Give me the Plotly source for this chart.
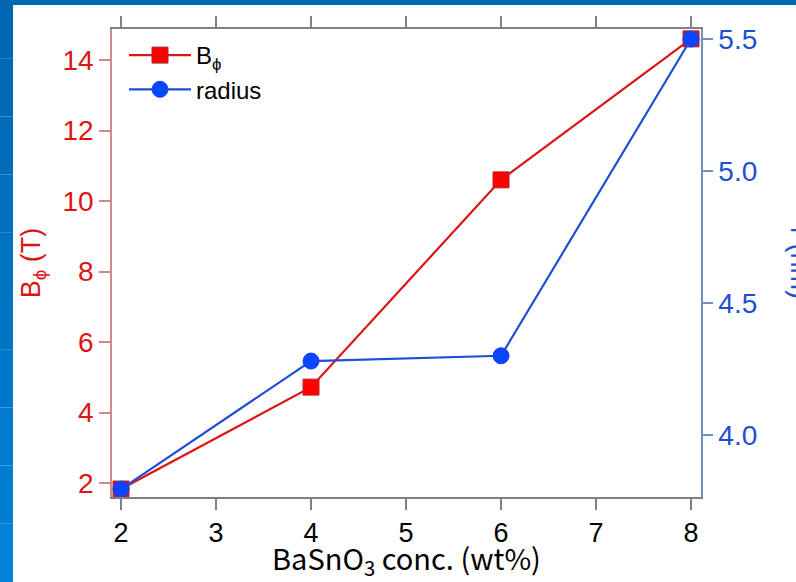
import plotly.graph_objects as go

conc = [2, 4, 6, 8]
b_phi = [1.83, 4.72, 10.6, 14.6]
radius = [3.795, 4.28, 4.30, 5.5]

x_ticks = [2, 3, 4, 5, 6, 7, 8]
b_ticks = [2, 4, 6, 8, 10, 12, 14]
r_ticks = [4.0, 4.5, 5.0, 5.5]

RED_LINE = "#dc1414"
RED_FILL = "#ff0000"
BLUE_LINE = "#1c4fd2"
BLUE_FILL = "#0a46ff"

fig = go.Figure()
fig.add_trace(go.Scatter(
    x=conc, y=b_phi, name="B<sub>ϕ</sub>", mode="lines+markers",
    line=dict(color=RED_LINE, width=2.2),
    marker=dict(symbol="square", size=16, color=RED_FILL,
                line=dict(color="#b02828", width=1)),
    yaxis="y"))
fig.add_trace(go.Scatter(
    x=conc, y=radius, name="radius", mode="lines+markers",
    line=dict(color=BLUE_LINE, width=2.2),
    marker=dict(symbol="circle", size=16, color=BLUE_FILL,
                line=dict(color=BLUE_FILL, width=1)),
    yaxis="y2"))

L, R, T, B = 112, 95, 29, 85
W, H = 796, 582
pw, ph = W - L - R, H - T - B

def px(xp):
    return (xp - L) / pw

def py(yp):
    return (H - B - yp) / ph

shapes = []
# top blue strip
shapes.append(dict(type="rect", xref="paper", yref="paper",
                   x0=px(0), x1=px(W), y0=py(5), y1=py(0),
                   fillcolor="#0067b3", line=dict(width=0), layer="below"))
# left blue strip with vertical gradient
cols = ["#0067b3", "#0069b6", "#006cba", "#006fbe", "#0072c2",
        "#0075c6", "#0078ca", "#007bce", "#007ed2", "#0382d8"]
n = len(cols)
for i, c in enumerate(cols):
    shapes.append(dict(type="rect", xref="paper", yref="paper",
                       x0=px(0), x1=px(13), y0=py(H * (i + 1) / n), y1=py(H * i / n),
                       fillcolor=c, line=dict(width=0), layer="below"))

fig.update_layout(
    width=W, height=H,
    margin=dict(l=L, r=R, t=T, b=B, pad=0, autoexpand=False),
    paper_bgcolor="white", plot_bgcolor="white",
    shapes=shapes,
    showlegend=True,
    legend=dict(x=px(124), y=py(33), xanchor="left", yanchor="top",
                bgcolor="rgba(0,0,0,0)", borderwidth=0,
                font=dict(family="Liberation Sans, Arial", size=24, color="black"),
                itemwidth=62, tracegroupgap=0),
    xaxis=dict(range=[1.905, 8.105], tickvals=x_ticks, automargin=False,
               showgrid=False, zeroline=False,
               showline=True, linecolor="#808080", linewidth=1.5,
               mirror="ticks", ticks="outside", ticklen=11, tickwidth=1.5,
               tickcolor="#808080",
               tickfont=dict(family="Liberation Sans, Arial", size=27, color="black"),
               title=dict(text="BaSnO<sub>3</sub> conc. (wt%)", standoff=3,
                          font=dict(family="Noto Sans CJK JP", size=29, color="black"))),
    yaxis=dict(range=[1.603, 14.88], tickvals=b_ticks, automargin=False,
               showgrid=False, zeroline=False,
               showline=True, linecolor="#d08888", linewidth=1.5,
               ticks="outside", ticklen=11, tickwidth=1.5, tickcolor="#d08888",
               tickfont=dict(family="Liberation Sans, Arial", size=28, color=RED_LINE),
               title=dict(text="B<sub>ϕ</sub> (T)", standoff=14,
                          font=dict(family="Liberation Sans, Arial", size=27, color=RED_LINE))),
    yaxis2=dict(range=[3.765, 5.538], tickvals=r_ticks, tickformat=".1f",
                overlaying="y", side="right", automargin=False,
                showgrid=False, zeroline=False,
                showline=True, linecolor="#7090c0", linewidth=1.5,
                ticks="outside", ticklen=10, tickwidth=1.5, tickcolor="#7090c0",
                tickfont=dict(family="Liberation Sans, Arial", size=28, color=BLUE_LINE)),
    annotations=[dict(text="r (nm)", xref="paper", yref="paper",
                      x=px(800), y=0.5, textangle=90, showarrow=False,
                      xanchor="center", yanchor="middle",
                      font=dict(family="Liberation Sans, Arial", size=27, color=BLUE_LINE))],
)

fig.write_html("out.html", config={"displayModeBar": False},
               post_script="document.body.style.margin='0';document.body.style.overflow='hidden';")
